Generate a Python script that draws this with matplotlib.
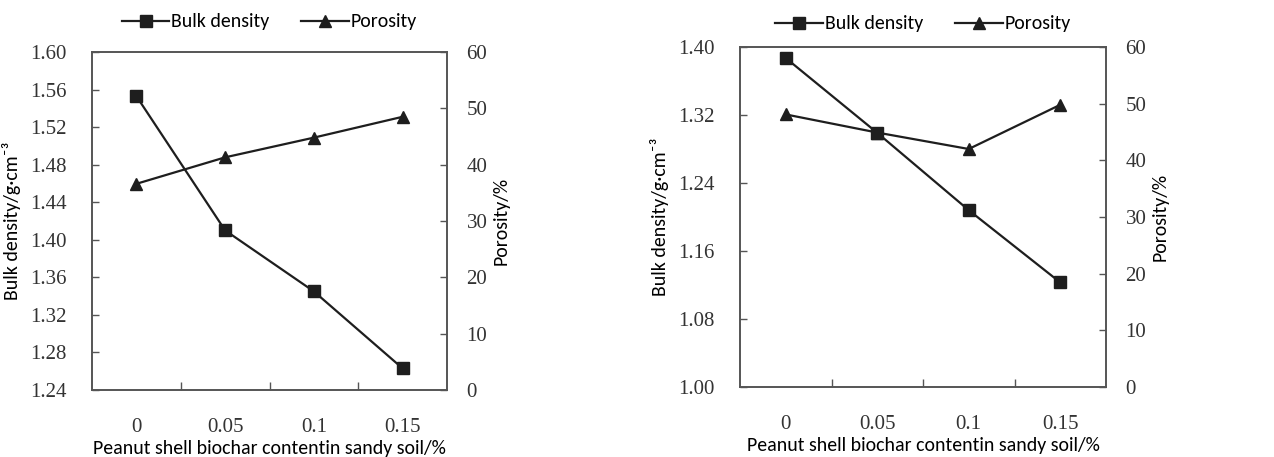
import matplotlib
matplotlib.use("Agg")
import matplotlib.pyplot as plt
from matplotlib.ticker import FixedLocator, NullFormatter

categories = ["0", "0.05", "0.1", "0.15"]
left_bulk = [1.553, 1.410, 1.345, 1.263]
left_poro = [36.6, 41.3, 44.8, 48.5]
right_bulk = [1.387, 1.299, 1.208, 1.123]
right_poro = [48.1, 44.9, 42.0, 49.8]

left_yticks = [1.24, 1.28, 1.32, 1.36, 1.40, 1.44, 1.48, 1.52, 1.56, 1.60]
right_yticks = [1.00, 1.08, 1.16, 1.24, 1.32, 1.40]
poro_ticks = [0, 10, 20, 30, 40, 50, 60]

xlabel = "Peanut shell biochar contentin sandy soil/%"
ylabel_l = "Bulk density/g\u00b7cm\u207b\u00b3"
ylabel_r = "Porosity/%"

TXT = ["Carlito", "DejaVu Sans"]
NUM = ["Liberation Serif", "DejaVu Serif"]
plt.rcParams["font.family"] = NUM
LC = "#1e1e1e"
SC = "#555555"
TC = "#333333"
NUMSIZE = 15
TXTSIZE = 14.3

fig = plt.figure(figsize=(12.74, 4.57), dpi=100)

def panel(rect, bulk, poro, yticks, lfmt, leg_y):
    ax = fig.add_axes(rect)
    ax2 = ax.twinx()
    x = list(range(len(categories)))
    h1, = ax.plot(x, bulk, color=LC, lw=1.6, marker="s", ms=8, mfc=LC, mec=LC,
                  label="Bulk density", zorder=3)
    h2, = ax2.plot(x, poro, color=LC, lw=1.6, marker="^", ms=8, mfc=LC, mec=LC,
                   label="Porosity", zorder=3)
    ax.set_xlim(-0.5, len(categories) - 0.5)
    ax.set_ylim(yticks[0], yticks[-1])
    ax.yaxis.set_major_locator(FixedLocator(yticks))
    ax.yaxis.set_major_formatter(plt.FuncFormatter(lambda v, p: lfmt.format(v)))
    ax2.set_ylim(poro_ticks[0], poro_ticks[-1])
    ax2.yaxis.set_major_locator(FixedLocator(poro_ticks))
    ax2.yaxis.set_major_formatter(plt.FuncFormatter(lambda v, p: "{:d}".format(int(round(v)))))
    ax.xaxis.set_major_locator(FixedLocator([0.5, 1.5, 2.5]))
    ax.xaxis.set_major_formatter(NullFormatter())
    ax.xaxis.set_minor_locator(FixedLocator(x))
    ax.xaxis.set_minor_formatter(plt.FuncFormatter(lambda v, p: categories[int(round(v))]))
    ax.tick_params(axis="x", which="major", direction="in", length=6, width=1, color=SC)
    ax.tick_params(axis="x", which="minor", length=0, pad=20, labelsize=NUMSIZE,
                   labelcolor=TC, labelfontfamily="Liberation Serif")
    ax.tick_params(axis="y", direction="in", length=5, width=1, color=SC, pad=18,
                   labelsize=NUMSIZE, labelcolor=TC, labelfontfamily="Liberation Serif")
    ax2.tick_params(axis="y", direction="in", length=5, width=1, color=SC, pad=14,
                    labelsize=NUMSIZE, labelcolor=TC, labelfontfamily="Liberation Serif")
    for a in (ax, ax2):
        for s in a.spines.values():
            s.set_color(SC)
            s.set_linewidth(1.2)
    ax.set_xlabel(xlabel, family=TXT, fontsize=TXTSIZE, labelpad=2)
    ax.set_ylabel(ylabel_l, family=TXT, fontsize=TXTSIZE, labelpad=7)
    ax2.set_ylabel(ylabel_r, family=TXT, fontsize=TXTSIZE, labelpad=4)
    cx = rect[0] + rect[2] / 2
    fig.legend([h1, h2], ["Bulk density", "Porosity"], loc="center",
               bbox_to_anchor=(cx, leg_y), bbox_transform=fig.transFigure,
               ncol=2, frameon=False,
               prop={"family": TXT, "size": TXTSIZE}, handlelength=2.4,
               handletextpad=0.1, columnspacing=1.6, borderaxespad=0)
    return ax, ax2

panel([92 / 1274, (457 - 390) / 457, 355 / 1274, 338 / 457], left_bulk, left_poro,
      left_yticks, "{:.2f}", 1 - 22 / 457)
panel([740 / 1274, (457 - 387) / 457, 366 / 1274, 340 / 457], right_bulk, right_poro,
      right_yticks, "{:.2f}", 1 - 24 / 457)

fig.savefig("out.png", dpi=100)
